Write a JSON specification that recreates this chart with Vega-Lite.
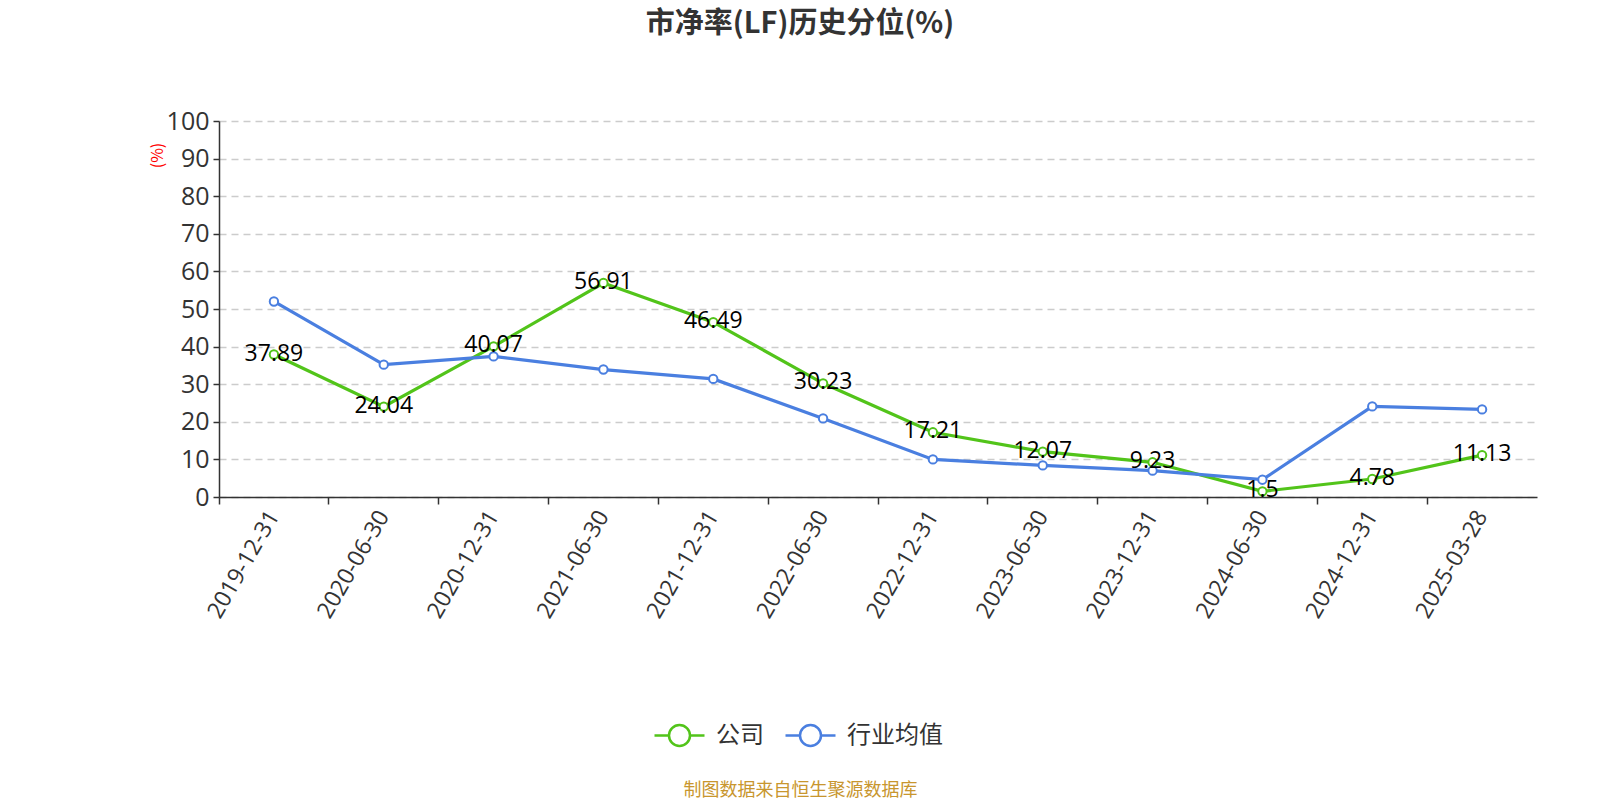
{
  "$schema": "https://vega.github.io/schema/vega-lite/v6.json",
  "width": 1318,
  "height": 376,
  "autosize": "none",
  "padding": {"left": 219, "top": 121, "right": 63, "bottom": 303},
  "background": "white",
  "config": {
    "font": "Noto Sans CJK SC",
    "view": {"stroke": null}
  },
  "title": {
    "text": "市净率(LF)历史分位(%)",
    "fontSize": 29,
    "fontWeight": "bold",
    "color": "#333333",
    "anchor": "middle",
    "frame": "group",
    "dx": -78,
    "offset": 70
  },
  "data": {
    "values": [
      {"date": "2019-12-31", "series": "公司", "value": 37.89},
      {"date": "2020-06-30", "series": "公司", "value": 24.04},
      {"date": "2020-12-31", "series": "公司", "value": 40.07},
      {"date": "2021-06-30", "series": "公司", "value": 56.91},
      {"date": "2021-12-31", "series": "公司", "value": 46.49},
      {"date": "2022-06-30", "series": "公司", "value": 30.23},
      {"date": "2022-12-31", "series": "公司", "value": 17.21},
      {"date": "2023-06-30", "series": "公司", "value": 12.07},
      {"date": "2023-12-31", "series": "公司", "value": 9.23},
      {"date": "2024-06-30", "series": "公司", "value": 1.5},
      {"date": "2024-12-31", "series": "公司", "value": 4.78},
      {"date": "2025-03-28", "series": "公司", "value": 11.13},
      {"date": "2019-12-31", "series": "行业均值", "value": 52.0},
      {"date": "2020-06-30", "series": "行业均值", "value": 35.2},
      {"date": "2020-12-31", "series": "行业均值", "value": 37.4},
      {"date": "2021-06-30", "series": "行业均值", "value": 33.9},
      {"date": "2021-12-31", "series": "行业均值", "value": 31.4},
      {"date": "2022-06-30", "series": "行业均值", "value": 20.9},
      {"date": "2022-12-31", "series": "行业均值", "value": 10.0},
      {"date": "2023-06-30", "series": "行业均值", "value": 8.4},
      {"date": "2023-12-31", "series": "行业均值", "value": 7.0},
      {"date": "2024-06-30", "series": "行业均值", "value": 4.6},
      {"date": "2024-12-31", "series": "行业均值", "value": 24.1},
      {"date": "2025-03-28", "series": "行业均值", "value": 23.3}
    ]
  },
  "encoding": {
    "x": {
      "field": "date",
      "type": "ordinal",
      "sort": null,
      "scale": {"type": "band", "paddingInner": 0, "paddingOuter": 0},
      "axis": {
        "title": "制图数据来自恒生聚源数据库",
        "titleColor": "#c8962e",
        "titleFontSize": 18,
        "titleFontWeight": "normal",
        "titleY": 293,
        "titleX": 581,
        "titleAnchor": "middle",
        "titleAlign": "center",
        "titleBaseline": "middle",
        "bandPosition": 0,
        "labelAngle": -60,
        "labelAlign": "right",
        "labelBaseline": "middle",
        "labelFont": "Open Sans",
        "labelFontSize": 23,
        "labelColor": "#333333",
        "labelPadding": 8,
        "domainColor": "#333333",
        "domainWidth": 1.5,
        "tickColor": "#333333",
        "tickSize": 7,
        "tickWidth": 1.5,
        "grid": false
      }
    },
    "y": {
      "field": "value",
      "type": "quantitative",
      "scale": {"domain": [0, 100]},
      "axis": {
        "title": "(%)",
        "titleColor": "#ff0000",
        "titleFontSize": 16,
        "titleFontWeight": "normal",
        "titleAngle": -90,
        "titleX": -62,
        "titleY": 34,
        "titleAlign": "center",
        "titleBaseline": "middle",
        "values": [0, 10, 20, 30, 40, 50, 60, 70, 80, 90, 100],
        "labelFont": "Open Sans",
        "labelFontSize": 25,
        "labelColor": "#333333",
        "labelPadding": 4,
        "domainColor": "#333333",
        "domainWidth": 1.5,
        "tickColor": "#333333",
        "tickSize": 6,
        "tickWidth": 1.5,
        "grid": true,
        "gridColor": "#cccccc",
        "gridDash": [7, 5],
        "gridWidth": 1.5
      }
    }
  },
  "layer": [
    {
      "mark": {"type": "line", "strokeWidth": 3.2},
      "encoding": {
        "color": {
          "field": "series",
          "type": "nominal",
          "scale": {"domain": ["公司", "行业均值"], "range": ["#52c41a", "#4a7fe0"]},
          "legend": {
            "title": null,
            "orient": "none",
            "legendX": 434,
            "legendY": 588,
            "direction": "horizontal",
            "labelFontSize": 24,
            "labelColor": "#333333",
            "symbolType": "M-1,0L-0.42,0M0.42,0L1,0M0.42,0A0.42,0.42 0 1 1 -0.42,0A0.42,0.42 0 1 1 0.42,0Z",
            "symbolSize": 2500,
            "symbolStrokeWidth": 2.5,
            "symbolFillColor": "white",
            "columnPadding": 16,
            "labelOffset": 10
          }
        }
      }
    },
    {
      "mark": {"type": "point", "shape": "circle", "filled": false, "fill": "white", "fillOpacity": 1, "size": 70, "strokeWidth": 2, "opacity": 1},
      "encoding": {
        "stroke": {"field": "series", "type": "nominal", "scale": {"domain": ["公司", "行业均值"], "range": ["#52c41a", "#4a7fe0"]}, "legend": null}
      }
    },
    {
      "transform": [{"filter": "datum.series === '公司'"}],
      "mark": {"type": "text", "font": "Open Sans", "fontSize": 23, "color": "#000000", "baseline": "middle", "dy": -1},
      "encoding": {
        "text": {"field": "value", "type": "quantitative"}
      }
    }
  ]
}
